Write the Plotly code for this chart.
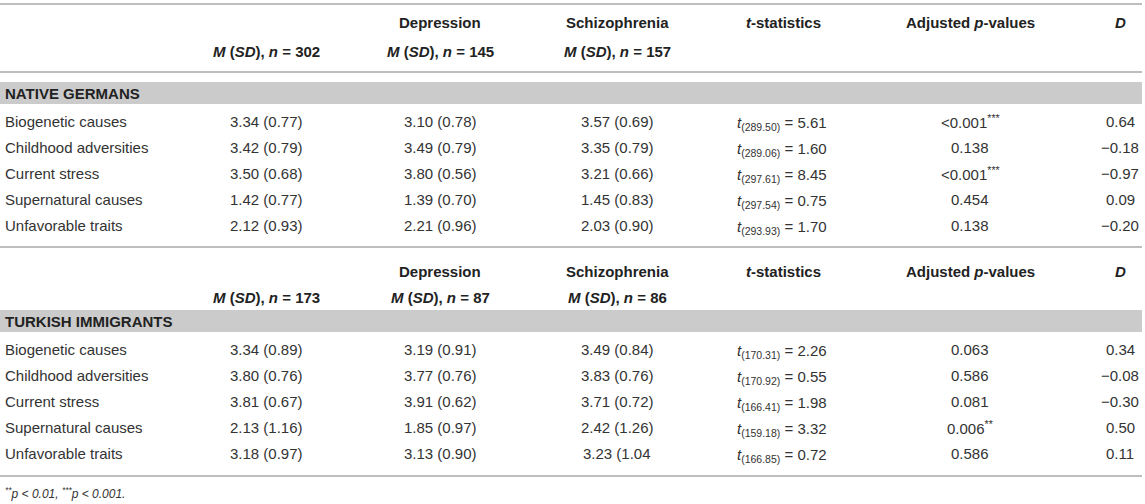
import plotly.graph_objects as go

# ---------------- data ----------------
causes = ["Biogenetic causes", "Childhood adversities", "Current stress",
          "Supernatural causes", "Unfavorable traits"]

ng_n = [302, 145, 157]
ng_all = ["3.34 (0.77)", "3.42 (0.79)", "3.50 (0.68)", "1.42 (0.77)", "2.12 (0.93)"]
ng_dep = ["3.10 (0.78)", "3.49 (0.79)", "3.80 (0.56)", "1.39 (0.70)", "2.21 (0.96)"]
ng_sch = ["3.57 (0.69)", "3.35 (0.79)", "3.21 (0.66)", "1.45 (0.83)", "2.03 (0.90)"]
ng_df = ["289.50", "289.06", "297.61", "297.54", "293.93"]
ng_t = ["5.61", "1.60", "8.45", "0.75", "1.70"]
ng_p = ["<0.001", "0.138", "<0.001", "0.454", "0.138"]
ng_sig = ["***", "", "***", "", ""]
ng_d = ["0.64", "\u22120.18", "\u22120.97", "0.09", "\u22120.20"]

ti_n = [173, 87, 86]
ti_all = ["3.34 (0.89)", "3.80 (0.76)", "3.81 (0.67)", "2.13 (1.16)", "3.18 (0.97)"]
ti_dep = ["3.19 (0.91)", "3.77 (0.76)", "3.91 (0.62)", "1.85 (0.97)", "3.13 (0.90)"]
ti_sch = ["3.49 (0.84)", "3.83 (0.76)", "3.71 (0.72)", "2.42 (1.26)", "3.23 (1.04"]
ti_df = ["170.31", "170.92", "166.41", "159.18", "166.85"]
ti_t = ["2.26", "0.55", "1.98", "3.32", "0.72"]
ti_p = ["0.063", "0.586", "0.081", "0.006", "0.586"]
ti_sig = ["", "", "", "**", ""]
ti_d = ["0.34", "\u22120.08", "\u22120.30", "0.50", "0.11"]

footnote = "<i><sup>**</sup>p < 0.01, <sup>***</sup>p < 0.001.</i>"

# ---------------- layout constants ----------------
W, H = 1145, 504
FONT = "Liberation Sans, Arial, Helvetica, sans-serif"
TXT = "#333333"
HDR = "#222222"
RULE = "#a8a8a8"
BAND = "#cbcbcb"
FS = 15

col_label = 3
col_x = [266, 440, 617, 735, 970, 1120]

sections = [
    dict(n=ng_n, title="NATIVE GERMANS", all=ng_all, dep=ng_dep, sch=ng_sch,
         df=ng_df, t=ng_t, p=ng_p, sig=ng_sig, d=ng_d,
         h1=22, h2=51, rule_top=4, rule_mid=72, band=(82, 104), rows0=121, rule_bot=247),
    dict(n=ti_n, title="TURKISH IMMIGRANTS", all=ti_all, dep=ti_dep, sch=ti_sch,
         df=ti_df, t=ti_t, p=ti_p, sig=ti_sig, d=ti_d,
         h1=271, h2=297, rule_top=None, rule_mid=None, band=(310, 332), rows0=349, rule_bot=476),
]
row_step = 26.0

fig = go.Figure()
fig.add_trace(go.Scatter(x=[0, W], y=[0, H], mode="markers",
                         marker=dict(opacity=0), hoverinfo="skip", showlegend=False))

ann = []
shapes = []


def text(x, y, s, anchor="center", size=FS, bold=False):
    if bold:
        s = "<b>" + s + "</b>"
    ann.append(dict(x=x, y=y, xref="x", yref="y", text=s, showarrow=False,
                    xanchor=anchor, yanchor="middle",
                    font=dict(family=FONT, size=size, color=HDR if bold else TXT)))


def hline(y, width=1.6):
    shapes.append(dict(type="line", xref="x", yref="y", x0=0, x1=W - 3, y0=y, y1=y,
                       line=dict(color=RULE, width=width)))


for sec in sections:
    if sec["rule_top"] is not None:
        hline(sec["rule_top"])
    if sec["rule_mid"] is not None:
        hline(sec["rule_mid"])
    hline(sec["rule_bot"])
    b0, b1 = sec["band"]
    shapes.append(dict(type="rect", xref="x", yref="y", x0=0, x1=W - 3, y0=b0, y1=b1,
                       fillcolor=BAND, line=dict(width=0), layer="below"))
    text(col_label, (b0 + b1) / 2, sec["title"], anchor="left", bold=True)

    # header row 1
    h1 = sec["h1"]
    text(col_x[1], h1, "Depression", bold=True)
    text(col_x[2], h1, "Schizophrenia", bold=True)
    text(783, h1, "<i>t</i>-statistics", bold=True)
    text(col_x[4], h1, "Adjusted <i>p</i>-values", bold=True)
    text(col_x[5], h1, "<i>D</i>", bold=True)
    # header row 2
    h2 = sec["h2"]
    for k in range(3):
        text(col_x[k], h2, "<i>M</i> (<i>SD</i>), <i>n</i> = %d" % sec["n"][k], bold=True)

    for i, c in enumerate(causes):
        y = sec["rows0"] + i * row_step
        text(col_label, y, c, anchor="left")
        text(col_x[0], y, sec["all"][i])
        text(col_x[1], y, sec["dep"][i])
        text(col_x[2], y, sec["sch"][i])
        text(col_x[3], y + 2, "<i>t</i><sub>(%s)</sub> = %s" % (sec["df"][i], sec["t"][i]),
             anchor="left")
        p = sec["p"][i].replace("<", "&lt;")
        if sec["sig"][i]:
            p += "<sup>%s</sup>" % sec["sig"][i]
        text(col_x[4], y, p)
        text(col_x[5], y, sec["d"][i])

text(col_label, 493, footnote, anchor="left", size=12)

fig.update_layout(
    width=W, height=H, margin=dict(l=0, r=0, t=0, b=0),
    paper_bgcolor="white", plot_bgcolor="white",
    xaxis=dict(range=[0, W], visible=False, fixedrange=True),
    yaxis=dict(range=[H, 0], visible=False, fixedrange=True),
    annotations=ann, shapes=shapes, showlegend=False,
)
fig.write_html(
    "out.html",
    config={"displayModeBar": False},
    post_script="document.body.style.margin='0';document.body.style.overflow='hidden';",
)
